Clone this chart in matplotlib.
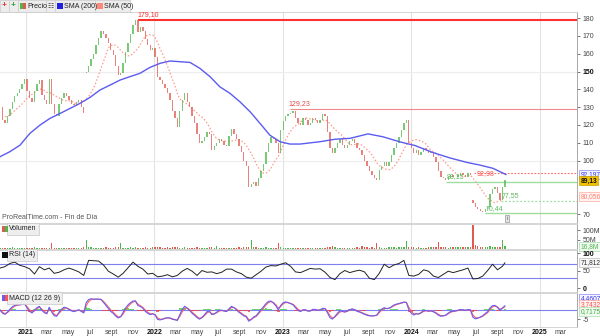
import matplotlib
matplotlib.use('Agg')
import matplotlib.pyplot as plt
import matplotlib.dates as mdates
from matplotlib.patches import Rectangle
import numpy as np
import pandas as pd

# ---------------- data ----------------
start_date = '2020-10-19'
closes = [130, 123, 121, 125, 129, 133, 136, 138, 140, 143,
          146, 139, 135, 133, 139, 143, 145, 137, 134, 132,
          146, 132, 126, 125, 132, 135, 138, 136, 134, 132,
          131, 133, 134, 130, 127, 150, 153, 157, 160, 165,
          169, 173, 171, 169, 166, 162, 159, 153, 148, 149,
          155, 161, 166, 171, 176, 179, 172, 175, 173, 168,
          165, 162, 163, 158, 147, 145, 143, 141, 138, 134,
          128, 124, 119, 128, 134, 138, 133, 130, 125, 121,
          115, 110, 111, 113, 116, 115, 106, 108, 110, 112,
          111, 109, 108, 114, 118, 115, 112, 108, 105, 100,
          97, 85, 87, 88, 86, 90, 94, 98, 105, 110,
          113, 112, 110, 104, 117, 122, 125, 126, 127, 128,
          124, 121, 120, 124, 123, 120, 121, 124, 123, 121,
          123, 126, 125, 116, 107, 104, 107, 110, 112, 109,
          107, 109, 111, 112, 110, 107, 106, 103, 100, 97,
          94, 92, 90, 89, 95, 97, 99, 97, 99, 103,
          107, 110, 113, 117, 121, 123, 110, 107, 104, 106,
          103, 105, 107, 106, 104, 105, 102, 99, 94, 91,
          90, 89, 91, 92, 91, 91, 92, 93, 92, 91,
          93, 92, 76, 74, 73, 72, 71, 73, 74, 81,
          84, 85, 82, 78, 85, 89.13]
gap_weeks = [35, 192]
gap_opens = [149, 78]
volumes_m = [6, 7, 5, 8, 6, 9, 7, 6, 5, 7,
             8, 6, 7, 5, 9, 6, 7, 8, 6, 5,
             7, 30, 8, 6, 7, 5, 6, 8, 7, 6,
             5, 7, 6, 8, 9, 47, 12, 9, 8, 7,
             8, 6, 7, 9, 6, 7, 8, 10, 9, 30,
             8, 7, 6, 9, 8, 10, 7, 6, 8, 9,
             7, 8, 10, 9, 12, 9, 8, 7, 9, 8,
             10, 9, 11, 8, 7, 9, 8, 7, 6, 8,
             9, 8, 7, 6, 8, 9, 10, 7, 18, 8,
             7, 6, 8, 7, 6, 8, 7, 9, 8, 10,
             12, 10, 47, 11, 9, 8, 7, 8, 9, 7,
             8, 7, 6, 30, 9, 8, 7, 6, 8, 7,
             6, 7, 8, 6, 7, 5, 6, 7, 8, 6,
             7, 6, 8, 9, 10, 18, 9, 8, 7, 6,
             7, 8, 6, 7, 8, 9, 8, 18, 9, 10,
             8, 9, 7, 30, 9, 8, 7, 8, 9, 10,
             9, 8, 10, 9, 11, 43, 12, 10, 9, 8,
             9, 8, 7, 8, 9, 10, 9, 11, 37, 12,
             10, 9, 8, 10, 9, 11, 10, 9, 12, 10,
             11, 12, 130, 20, 15, 12, 11, 10, 12, 14,
             12, 13, 11, 10, 47, 17]

# RSI(14) read every second week (weeks 0, 2, 4, ... 204) plus the last week
rsi_biweekly = [57, 61, 70, 74, 65, 61, 55, 40, 61, 52,
                57, 42, 45, 52, 57, 52, 46, 36, 79, 78,
                77, 66, 48, 40, 31, 42, 58, 74, 62, 54,
                40, 42, 32, 34, 38, 32, 36, 48, 56, 48,
                36, 50, 45, 46, 41, 45, 54, 54, 46, 41,
                31, 28, 38, 48, 60, 64, 63, 68, 72, 62,
                46, 44, 50, 56, 54, 55, 45, 30, 24, 41,
                50, 44, 48, 51, 46, 28, 24, 42, 68, 58,
                66, 70, 79, 36, 34, 39, 52, 48, 34, 30,
                39, 48, 44, 48, 52, 57, 26, 27, 34, 50,
                68, 52, 62]
rsi_last = 71.8

sma200_dates = ['2020-10-19', '2020-11-16', '2020-12-15', '2021-01-12', '2021-02-10',
                '2021-03-10', '2021-04-08', '2021-05-06', '2021-06-03', '2021-07-02',
                '2021-07-30', '2021-08-28', '2021-09-25', '2021-10-23', '2021-11-21',
                '2021-12-19', '2022-01-17', '2022-02-14', '2022-03-15', '2022-04-12',
                '2022-05-10', '2022-06-08', '2022-07-06', '2022-08-04', '2022-09-01',
                '2022-09-30', '2022-10-28', '2022-11-25', '2022-12-24', '2023-01-21',
                '2023-02-19', '2023-04-16', '2023-05-29', '2023-07-11', '2023-08-31',
                '2023-10-12', '2023-11-30', '2024-01-11', '2024-03-03', '2024-04-20',
                '2024-06-07', '2024-07-14', '2024-08-20', '2024-09-26']
sma200_values = [102.2, 105.0, 108.7, 115.3, 120.0, 123.7, 126.5, 129.3, 132.1, 135.5,
                 139.6, 142.4, 145.2, 147.1, 149.0, 152.3, 154.6, 155.9, 155.5, 155.1,
                 151.8, 147.1, 141.4, 137.7, 133.0, 127.4, 120.9, 114.3, 110.6, 109.3,
                 109.3, 110.6, 112.0, 112.5, 115.0, 113.4, 110.5, 108.5, 104.5, 101.5,
                 99.0, 97.5, 95.7, 92.2]

# support / resistance levels
level_dates = ['2021-11-15', '2023-01-20', '2024-06-28', '2024-04-10', '2024-09-12', '2024-07-28']
level_values = [179.10, 129.23, 92.98, 88.15, 77.55, 70.44]
level_labels = ['179,10', '129,23', '92,98', '88,15', '77,55', '70,44']

price_ticks = [70, 100, 110, 120, 130, 140, 150, 160, 170, 180]
month_labels = {3: 'mar', 5: 'may', 7: 'jul', 9: 'sept', 11: 'nov'}
last_sma200 = '92,197'
last_price = '89,13'
last_sma50 = '80,056'
last_volume = '16,8M'
last_rsi = '71,812'
last_macd = ['4,4607', '3,7432', '0,7175']

# ---------------- derived ----------------
dates = pd.date_range(start_date, periods=len(closes), freq='7D')
c = np.array(closes, dtype=float)
o = np.r_[c[0], c[:-1]]
for w, v in zip(gap_weeks, gap_opens):
    o[w] = v
up = c >= o
s = pd.Series(c)
sma50 = s.rolling(10, min_periods=3).mean()
def wk_alpha(n):
    return 1 - (1 - 2 / (n + 1)) ** 5
macd = s.ewm(alpha=wk_alpha(12), adjust=False).mean() - s.ewm(alpha=wk_alpha(26), adjust=False).mean()
signal = macd.ewm(alpha=wk_alpha(9), adjust=False).mean()
hist = macd - signal
rsi_dates = list(dates[::2]) + [dates[-1]]
rsi_vals = rsi_biweekly + [rsi_last]

# ---------------- figure ----------------
plt.rcParams['font.family'] = ['Liberation Sans', 'DejaVu Sans']
W, H = 600, 336
fig = plt.figure(figsize=(6, 3.36), dpi=100)
fig.patch.set_facecolor('white')
FS = 5.0
GREEN = '#4cb84c'
RED = '#e05a50'
GRID = '#e2e2e2'

def add_ax(top, bottom):
    return fig.add_axes([0, 1 - bottom / H, 577 / W, (bottom - top) / H])

xmin = mdates.date2num(pd.Timestamp('2020-10-19'))
xmax = mdates.date2num(pd.Timestamp('2025-04-16'))
xd = mdates.date2num(dates)
year_starts = [mdates.date2num(pd.Timestamp(f'{y}-01-01')) for y in range(2021, 2026)]

axp = add_ax(12, 223)
axv = add_ax(224, 249)
axr = add_ax(250, 292)
axm = add_ax(293, 327)

for ax in (axp, axv, axr, axm):
    ax.set_xlim(xmin, xmax)
    ax.yaxis.tick_right()
    ax.tick_params(axis='y', labelsize=FS, colors='#444444', length=2, width=0.5, pad=2)
    ax.tick_params(axis='x', length=0)
    for sp in ax.spines.values():
        sp.set_color('#cfcfcf')
        sp.set_linewidth(0.6)
    ax.spines['left'].set_visible(False)
    ax.spines['right'].set_color('#9a9a9a')
    for ys in year_starts:
        ax.axvline(ys, color=GRID, lw=0.8, zorder=0)
    ax.set_xticks([])

# ---- price ----
axp.set_ylim(65, 183.4)
for g in (100, 150):
    axp.axhline(g, color='#ececec', lw=0.8, zorder=0)
wd = 3.8
axp.bar(xd[up], (c - o)[up], bottom=o[up], width=wd, color=GREEN, alpha=0.75, lw=0, zorder=3)
axp.bar(xd[~up], (c - o)[~up], bottom=o[~up], width=wd, color=RED, alpha=0.75, lw=0, zorder=3)
axp.plot(xd, sma50, color='#ff9a8a', lw=0.9, ls=(0, (1.2, 1.6)), zorder=2)
axp.plot(mdates.date2num(pd.to_datetime(sma200_dates)), sma200_values, color='#5b5bf0', lw=1.0, zorder=4)

lvl_style = [dict(color='#ff3030', lw=1.5, ls='-'),
             dict(color='#f08a8a', lw=0.8, ls='-'),
             dict(color='#ff6a6a', lw=0.8, ls=(0, (1.5, 1.5))),
             dict(color='#9fdc9f', lw=1.0, ls='-'),
             dict(color='#9fdc9f', lw=0.9, ls=(0, (1.5, 1.5))),
             dict(color='#9fdc9f', lw=1.0, ls='-')]
lbl_col = ['#ff3030', '#e04848', '#ff5050', '#5cb85c', '#5cb85c', '#5cb85c']
lbl_dx = [0, -4, 8, 2, 2, 3]
lbl_dy = [0.9, 1.0, 0.0, 1.0, 1.0, 0.8]
for dstr, v, lab, st, col, dx, dy in zip(level_dates, level_values, level_labels, lvl_style, lbl_col, lbl_dx, lbl_dy):
    x0 = mdates.date2num(pd.Timestamp(dstr))
    axp.hlines(v, x0, xmax, zorder=2.5, **st)
    axp.text(x0 + dx, v + dy, lab, color=col, fontsize=FS, va='bottom' if dy > 0 else 'center',
             ha='left', zorder=5)

axp.set_yticks(price_ticks)
axp.set_yticklabels([str(t) for t in price_ticks])
for t in axp.get_yticklabels():
    if t.get_text() == '150':
        t.set_fontweight('bold')
        t.set_color('#111111')

def rbox(ax, y, txt, fc, ec, tc, bold=False):
    ax.text(1.006, y, txt, transform=ax.get_yaxis_transform(), fontsize=4.8, color=tc,
            va='center', ha='left', fontweight='bold' if bold else 'normal', clip_on=False,
            bbox=dict(boxstyle='square,pad=0.15', fc=fc, ec=ec, lw=0.5), zorder=10)

rbox(axp, 92.197, last_sma200, '#f4f4ff', '#8a8af0', '#3a3af0')
rbox(axp, 88.6, last_price, '#f2c200', '#c9a000', '#111111', bold=True)
rbox(axp, 80.056, last_sma50, '#fff4f2', '#ffaaa0', '#ff8070')
axp.text(0.003, 0.008, 'ProRealTime.com - Fin de Día', transform=axp.transAxes, fontsize=FS,
         color='#555555', va='bottom', ha='left')
axp.text(mdates.date2num(pd.Timestamp('2024-09-30')), 67.5, 'i', fontsize=4, color='#555',
         ha='center', va='center', bbox=dict(boxstyle='square,pad=0.25', fc='#e4e4e4', ec='#999', lw=0.5))

# ---- volume ----
vol = np.array(volumes_m, dtype=float)
axv.set_ylim(0, 135)
axv.bar(xd[up], vol[up], width=wd, color=GREEN, lw=0)
axv.bar(xd[~up], vol[~up], width=wd, color=RED, lw=0)
axv.set_yticks([50, 100])
axv.set_yticklabels(['50M', '100M'])
rbox(axv, 11, last_volume, '#f2fbf2', '#a8dca8', '#4cb84c')

# ---- RSI ----
axr.set_ylim(-11.4, 108.6)
axr.axhline(70, color='#7f7ff0', lw=0.8)
axr.axhline(30, color='#7f7ff0', lw=0.8)
axr.plot(mdates.date2num(rsi_dates), rsi_vals, color='#222222', lw=0.7)
axr.set_yticks([0, 50, 100])
axr.set_yticklabels(['0', '50', '100'])
for t in axr.get_yticklabels():
    if t.get_text() in ('0', '100'):
        t.set_fontweight('bold')
        t.set_color('#111111')
rbox(axr, 71.8, last_rsi, '#f7f7f7', '#bbbbbb', '#333333')

# ---- MACD ----
axm.set_ylim(-9.4, 9.4)
axm.axhline(0, color='#7f7ff0', lw=0.8, zorder=1)
hv = hist.values
axm.bar(xd[hv >= 0], hv[hv >= 0], width=7, color='#44cc44', alpha=0.8, lw=0, zorder=2)
axm.bar(xd[hv < 0], hv[hv < 0], width=7, color='#ee4444', alpha=0.8, lw=0, zorder=2)
axm.plot(xd, signal, color='#ff6060', lw=0.8, zorder=3)
axm.plot(xd, macd, color='#6a5cf0', lw=0.8, zorder=4)
axm.set_yticks([-5])
axm.set_yticklabels(['-5'])
rbox(axm, 6.6, last_macd[0], '#f4f4ff', '#8a8af0', '#3a3af0')
rbox(axm, 2.9, last_macd[1], '#fff4f2', '#ffaaa0', '#ff5050')
rbox(axm, -0.8, last_macd[2], '#f0fbf0', '#a8dca8', '#44aa44')

# x tick labels
tick_dates = pd.date_range('2021-01-01', '2025-03-01', freq='2MS')
for td in tick_dates:
    xv = mdates.date2num(td)
    if td.month == 1:
        axm.text(xv, -0.07, str(td.year), transform=axm.get_xaxis_transform(), fontsize=FS,
                 fontweight='bold', color='#111111', ha='center', va='top', clip_on=False)
    else:
        axm.text(xv, -0.07, month_labels[td.month], transform=axm.get_xaxis_transform(), fontsize=FS,
                 color='#444444', ha='center', va='top', clip_on=False)

# ---- panel headers ----
def px(x):
    return x / W
def py(y):
    return 1 - y / H

def header(x, y, txt, colors):
    fig.text(px(x + 9), py(y), txt, fontsize=FS, color='#222222', va='center', ha='left',
             bbox=dict(boxstyle='square,pad=0.3', fc='#eeeeee', ec='#c8c8c8', lw=0.5))
    n = len(colors)
    for k, col in enumerate(colors):
        fig.patches.append(Rectangle((px(x + 2 + k * 6 / n), py(y + 3)), 6 / n / W, 6 / H,
                                     transform=fig.transFigure, fc=col, ec='none', zorder=20))

header(0, 229, 'Volumen', ['#e05a50', '#4cb84c'])
header(0, 255, 'RSI (14)', ['#111111'])
header(0, 298, 'MACD (12 26 9)', ['#6a5cf0', '#ff5050'])

# ---- toolbar ----
fig.patches.append(Rectangle((0, py(12)), px(130), 12 / H, transform=fig.transFigure,
                             fc='#ececec', ec='#c8c8c8', lw=0.5, zorder=15))
for xs in (9, 18, 46, 55, 95):
    fig.lines.append(plt.Line2D([px(xs), px(xs)], [py(11), py(1)], transform=fig.transFigure,
                                color='#c8c8c8', lw=0.5, zorder=16))
fig.text(px(4.5), py(6), '+', color='#e03030', fontsize=6, fontweight='bold', ha='center', va='center', zorder=17)
fig.text(px(13.5), py(6), '+', color='#30a030', fontsize=6, fontweight='bold', ha='center', va='center', zorder=17)
fig.patches.append(Rectangle((px(20), py(9)), 3 / W, 6 / H, transform=fig.transFigure, fc='#4cb84c', zorder=17))
fig.patches.append(Rectangle((px(23), py(9)), 3 / W, 6 / H, transform=fig.transFigure, fc='#e05a50', zorder=17))
fig.text(px(27), py(6), 'Precio', fontsize=FS, color='#222222', va='center', ha='left', zorder=17)
fig.text(px(50.5), py(6), '☷', fontsize=5, color='#444444', va='center', ha='center', zorder=17,
         family='DejaVu Sans')
fig.patches.append(Rectangle((px(57), py(9)), 6 / W, 6 / H, transform=fig.transFigure, fc='#2020e0', zorder=17))
fig.text(px(64.5), py(6), 'SMA (200)', fontsize=FS, color='#222222', va='center', ha='left', zorder=17)
fig.patches.append(Rectangle((px(97), py(9)), 6 / W, 6 / H, transform=fig.transFigure, fc='#ff8a7a', zorder=17))
fig.text(px(104.5), py(6), 'SMA (50)', fontsize=FS, color='#222222', va='center', ha='left', zorder=17)

fig.savefig('out.png', dpi=100)
